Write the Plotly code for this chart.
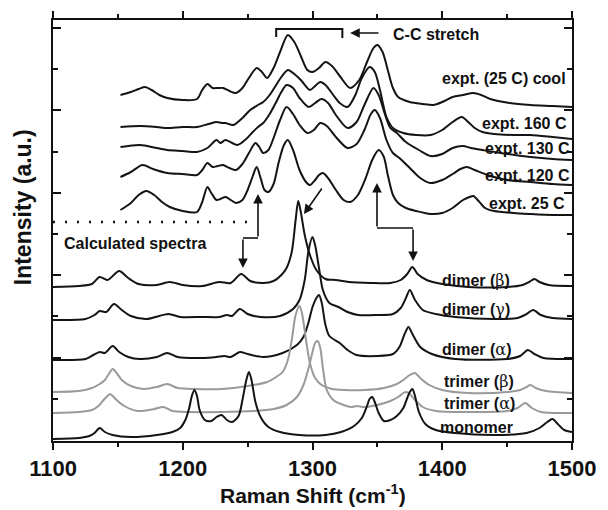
import plotly.graph_objects as go

# ---------------- data (Raman shift in cm-1, intensity in a.u. incl. stacking offset) ----------------
# experimental spectra (top five)
cool_x = [1152,1160,1166,1171,1176,1182,1188,1200,1211,1215,1219,1223,1227,1231,1236,1241,1246,1251,1257,1261,1265,1270,1275,1281,1286,1291,1296,1300,1305,1310,1315,1321,1329,1336,1342,1347,1350,1354,1358,1362,1366,1375,1385,1393,1400,1408,1416,1424,1430,1437,1452,1468,1485,1500]
cool_y = [345,348,351,353,350,345,342,340,341,350,356,352,352,352,349,347,352,362,372,368,362,372,388,405,398,384,370,368,372,378,374,364,352,360,378,392,395,388,370,352,343,338,336,335,338,343,345,347,345,341,337,335,334,333]

t160_x = [1152,1167,1180,1188,1200,1211,1220,1226,1230,1233,1239,1246,1252,1258,1262,1267,1272,1276,1281,1286,1291,1298,1302,1306,1310,1316,1321,1327,1333,1338,1344,1348,1352,1357,1362,1370,1380,1391,1400,1408,1415,1420,1425,1431,1440,1455,1468,1485,1500]
t160_y = [313,314,313,312,313,313,316,318,317,317,315,322,330,335,338,345,355,363,370,366,360,350,354,358,355,345,337,333,345,362,373,368,350,323,312,307,305,305,310,318,323,318,312,308,306,305,305,303,301]

t130_x = [1152,1167,1180,1188,1200,1211,1219,1226,1229,1233,1242,1248,1254,1258,1262,1267,1272,1276,1280,1285,1290,1297,1302,1307,1312,1318,1327,1334,1340,1347,1351,1356,1360,1365,1372,1382,1391,1400,1408,1416,1422,1431,1445,1468,1485,1500]
t130_y = [293,295,292,290,289,288,292,300,297,300,295,300,308,313,317,326,338,348,355,352,342,333,337,341,337,325,312,318,335,352,345,325,312,307,298,290,284,286,292,294,292,290,287,283,281,280]

t120_x = [1152,1160,1169,1177,1188,1200,1211,1215,1219,1223,1227,1231,1236,1241,1246,1251,1256,1259,1262,1266,1270,1275,1280,1285,1290,1296,1301,1306,1311,1318,1327,1334,1340,1345,1348,1352,1357,1362,1367,1375,1383,1391,1400,1408,1414,1419,1425,1435,1450,1468,1485,1500]
t120_y = [263,268,275,271,267,266,265,270,277,273,274,275,272,270,276,287,297,293,287,290,302,320,333,326,315,307,310,317,314,303,292,296,310,326,330,322,300,287,282,272,262,257,260,266,271,273,270,265,260,258,256,255]

t25_x = [1152,1160,1166,1172,1178,1184,1190,1200,1211,1215,1219,1222,1226,1229,1233,1237,1241,1246,1250,1254,1257,1260,1263,1266,1270,1274,1278,1281,1285,1290,1295,1298,1302,1305,1308,1312,1318,1324,1329,1335,1341,1346,1351,1355,1358,1362,1366,1372,1380,1391,1400,1408,1416,1421,1424,1428,1433,1440,1455,1468,1485,1500]
t25_y = [230,237,245,249,245,238,233,229,228,238,253,247,240,241,243,240,237,240,250,264,273,262,250,248,256,278,295,300,290,270,258,255,260,265,267,262,250,240,238,245,262,280,290,283,265,245,237,232,229,226,227,232,240,243,244,239,232,229,227,226,225,225]

# calculated spectra (bottom six)
dimb_x = [1100,1120,1130,1136,1142,1151,1158,1166,1180,1190,1200,1215,1228,1237,1245,1252,1262,1270,1276,1280,1284,1287,1289,1291,1294,1298,1303,1310,1318,1328,1345,1360,1368,1373,1377,1381,1388,1400,1420,1450,1462,1467,1471,1475,1482,1500]
dimb_y = [153,154,156,163,160,169,162,156,155,158,155,154,158,157,166,159,157,159,165,172,188,220,239,228,205,185,170,161,160,158,157,157,160,166,173,166,160,156,153,153,155,158,161,158,155,154]

dimg_x = [1100,1125,1132,1136,1141,1147,1153,1160,1172,1189,1198,1215,1228,1234,1238,1244,1250,1260,1275,1285,1290,1294,1297,1300,1302,1305,1308,1313,1320,1327,1335,1350,1362,1368,1372,1375,1379,1385,1395,1410,1440,1458,1465,1470,1476,1485,1500]
dimg_y = [120,121,125,129,128,136,130,124,121,126,123,123,123,125,124,131,126,123,124,131,140,160,190,203,195,172,150,137,133,128,125,125,126,132,142,150,140,130,126,123,121,122,126,130,125,122,121]

dima_x = [1100,1125,1131,1136,1140,1146,1151,1158,1167,1180,1188,1196,1215,1226,1232,1237,1244,1250,1262,1277,1288,1293,1297,1300,1303,1305,1307,1310,1313,1321,1327,1334,1350,1362,1367,1371,1374,1377,1383,1392,1410,1450,1460,1466,1471,1478,1500]
dima_y = [80,81,85,88,87,94,88,83,81,83,87,83,82,83,84,83,88,86,83,87,95,103,118,133,142,145,138,115,104,97,90,85,84,86,93,106,113,106,93,86,81,81,84,90,86,82,81]

trib_x = [1100,1120,1130,1136,1140,1143,1146,1149,1153,1160,1170,1180,1188,1196,1210,1230,1250,1265,1272,1277,1281,1284,1287,1290,1292,1295,1298,1302,1307,1315,1325,1340,1355,1365,1371,1375,1379,1383,1390,1400,1420,1450,1460,1465,1468,1472,1480,1500]
trib_y = [48,49,52,56,60,66,71,67,60,54,51,53,56,52,51,51,54,58,63,68,80,100,125,134,126,100,77,62,55,51,50,50,52,56,61,65,67,62,55,50,47,48,50,53,55,52,49,47]

tria_x = [1100,1120,1130,1135,1139,1142,1144,1146,1149,1155,1165,1178,1185,1192,1205,1230,1255,1270,1280,1288,1293,1297,1300,1302,1304,1306,1308,1311,1316,1324,1330,1334,1340,1350,1360,1366,1370,1372,1375,1379,1385,1395,1420,1450,1458,1464,1469,1476,1500]
tria_y = [27,28,30,34,40,44,46,44,40,34,29,31,33,29,28,28,29,31,35,43,55,72,88,97,99,92,72,50,40,35,33,34,33,35,39,43,47,48,46,40,33,29,28,29,32,37,32,28,27]

mono_x = [1100,1120,1128,1132,1136,1140,1146,1160,1180,1192,1198,1202,1205,1207,1209,1211,1213,1217,1222,1226,1230,1234,1238,1243,1246,1249,1251,1253,1256,1260,1266,1275,1290,1310,1322,1332,1338,1342,1344,1346,1348,1351,1355,1360,1365,1370,1373,1375,1377,1379,1382,1387,1395,1410,1440,1465,1475,1481,1485,1489,1494,1500]
mono_y = [1,2,4,7,12,8,5,3,5,8,12,20,32,44,50,44,30,20,19,23,25,20,18,24,40,60,68,60,38,23,13,8,5,5,8,14,22,34,41,43,38,27,19,20,24,32,42,48,51,44,28,16,10,7,5,7,12,18,21,16,10,8]

BLACK = "#141414"
GRAY = "#9a9a9a"

series = [
    (cool_x, cool_y, BLACK), (t160_x, t160_y, BLACK), (t130_x, t130_y, BLACK),
    (t120_x, t120_y, BLACK), (t25_x, t25_y, BLACK),
    (dimb_x, dimb_y, BLACK), (dimg_x, dimg_y, BLACK), (dima_x, dima_y, BLACK),
    (trib_x, trib_y, GRAY), (tria_x, tria_y, GRAY), (mono_x, mono_y, BLACK),
]

fig = go.Figure()
for xs, ys, col in series:
    fig.add_trace(go.Scatter(x=xs, y=ys, mode="lines",
                             line=dict(color=col, width=2, shape="spline", smoothing=0.8),
                             showlegend=False, hoverinfo="skip"))

FONT = "Liberation Sans, Arial, Helvetica, sans-serif"
GREEK = "<span style=\"font-family:'DejaVu Serif',serif;font-weight:normal\">%s</span>"

labels = [
    ("expt. (25 C) cool", 1398.3, 362),
    ("expt. 160 C", 1429, 317),
    ("expt. 130 C", 1431.4, 292),
    ("expt. 120 C", 1431.4, 265),
    ("expt. 25 C", 1434.5, 237),
    ("dimer (" + GREEK % "β" + ")", 1398, 160),
    ("dimer (" + GREEK % "γ" + ")", 1398, 131),
    ("dimer (" + GREEK % "α" + ")", 1398, 91),
    ("trimer (" + GREEK % "β" + ")", 1400, 59),
    ("trimer (" + GREEK % "α" + ")", 1400, 37),
    ("monomer", 1397, 13),
    ("Calculated spectra", 1107, 197),
    ("C-C stretch", 1360.5, 406),
]
for txt, x, y in labels:
    fig.add_annotation(x=x, y=y, text=txt, showarrow=False, xanchor="left", yanchor="middle",
                       font=dict(family=FONT, size=16, color="#111", weight="bold"))

# arrows
def arrow(x, y, ax, ay):
    fig.add_annotation(x=x, y=y, ax=ax, ay=ay, xref="x", yref="y", axref="x", ayref="y",
                       text="", showarrow=True, arrowhead=2, arrowsize=1.2, arrowwidth=1.6,
                       arrowcolor="#111")

line_style = dict(color="#111", width=1.6)
# left elbow arrow
fig.add_shape(type="line", x0=1258, y0=202, x1=1246.4, y1=202, line=line_style)
arrow(1258, 246, 1258, 202)
arrow(1246.4, 172, 1246.4, 202)
# right elbow arrow
fig.add_shape(type="line", x0=1349.7, y0=212, x1=1377.5, y1=212, line=line_style)
arrow(1349.7, 257, 1349.7, 212)
arrow(1377.5, 179, 1377.5, 212)
# diagonal arrow
arrow(1293.4, 226, 1308, 253)
# C-C stretch arrow
arrow(1329, 407, 1352, 407)
# bracket
fig.add_shape(type="path", path="M 1272,403 L 1272,411 L 1323,411 L 1323,402",
              line=dict(color="#111", width=2))
# dotted separator
fig.add_shape(type="line", x0=1100, y0=218, x1=1250, y1=218,
              line=dict(color="#111", width=2.5, dash="2px,10px"))

fig.add_annotation(xref="paper", yref="paper", x=0.5, y=-0.126, yanchor="middle",
                   text="Raman Shift (cm<sup>-1</sup>)", showarrow=False,
                   font=dict(family=FONT, size=21, color="#111", weight="bold"))
fig.add_annotation(xref="paper", yref="paper", x=-0.058, y=0.555, xanchor="center", yanchor="middle",
                   textangle=-90, text="Intensity (a.u.)", showarrow=False,
                   font=dict(family=FONT, size=23, color="#111", weight="bold"))

fig.update_xaxes(range=[1100, 1500], tick0=1100, dtick=100, ticks="outside", ticklen=7, tickwidth=2,
                 tickcolor="#111", showline=True, linewidth=2, linecolor="#111", mirror="ticks",
                 showgrid=False, zeroline=False,
                 tickfont=dict(family=FONT, size=22, color="#111", weight="bold"),
                 minor=dict(dtick=50, ticks="outside", ticklen=4, tickwidth=2, tickcolor="#111", showgrid=False))
fig.update_yaxes(range=[-1, 420], tick0=0, dtick=82.4, ticks="inside", ticklen=8, tickwidth=2,
                 tickcolor="#111", showline=True, linewidth=2, linecolor="#111", mirror="ticks",
                 showgrid=False, zeroline=False, showticklabels=False,
                 minor=dict(dtick=41.2, ticks="inside", ticklen=5, tickwidth=2, tickcolor="#111", showgrid=False))

fig.update_layout(width=608, height=510, margin=dict(l=53, r=36, t=20, b=69),
                  plot_bgcolor="white", paper_bgcolor="white", showlegend=False)

fig.write_html("out.html", config={"displayModeBar": False},
               post_script="document.body.style.margin='0px';document.body.style.padding='0px';")
